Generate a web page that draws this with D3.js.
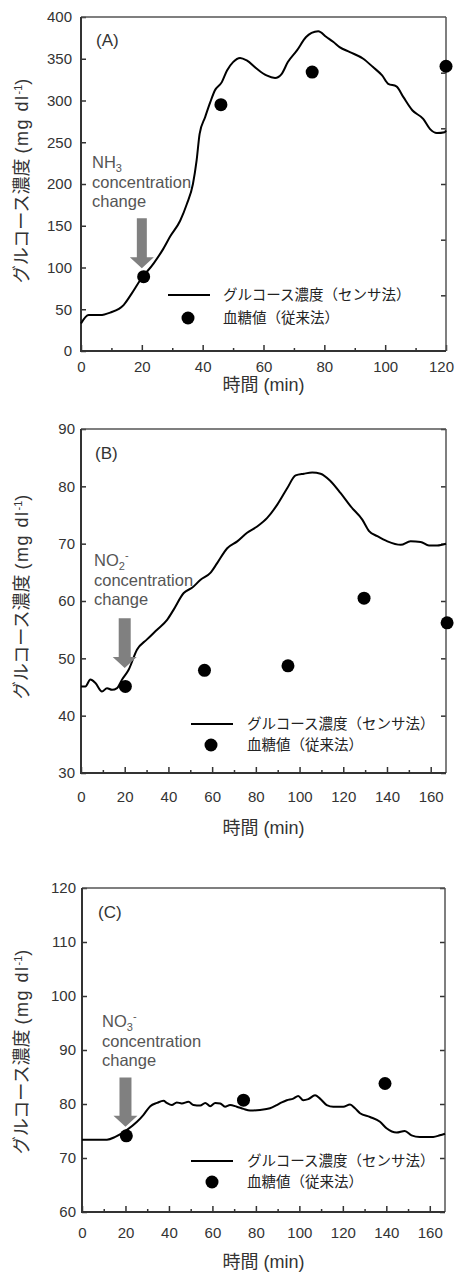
<!DOCTYPE html>
<html>
<head>
<meta charset="utf-8">
<script src="https://cdn.jsdelivr.net/npm/d3@7"></script>
<style>
  html, body { margin: 0; padding: 0; background: #fff; }
  svg { display: block; }
  text { font-family: "Liberation Sans", Arial, "Noto Sans CJK JP", sans-serif; }
  .jp { font-family: "Noto Sans CJK JP", "Liberation Sans", sans-serif; }
</style>
</head>
<body>
<svg id="chart" width="455" height="1273"></svg>
<script>
// ---------- Panel A (NH3) ----------
const timeA = [0, 2.5, 6.3, 9.6, 14, 16.7, 19.5, 23.9, 27, 29.3, 32.6, 34.8, 36.8, 38, 39, 40.8, 42.5, 44, 46.3, 48, 50, 52.3, 54.5, 57.8, 61, 63.8, 66, 68, 71, 74, 75.8, 78, 80.7, 83, 85, 88.4, 92.8, 96, 99, 101, 103.7, 106, 109, 112.5, 114.7, 117, 119.6, 120];
const glucoseA = [33, 43, 43, 46, 55, 69, 85, 105, 122, 137, 156, 176, 200, 228, 260, 280, 298, 312, 322, 336, 346, 351, 348, 338, 330, 327, 332, 346, 360, 376, 381, 383, 376, 370, 364, 358, 350, 340, 330, 320, 317, 304, 288, 278, 266, 261, 262, 264];
const dotTimeA = [20.6, 46, 76, 120];
const dotValueA = [89, 295, 334, 341];
const xTicksA = [0, 20, 40, 60, 80, 100, 120];
const yTicksA = [0, 50, 100, 150, 200, 250, 300, 350, 400];
const rightTicksA = [66.7, 133.3, 200, 266.7, 333.3];

// ---------- Panel B (NO2-) ----------
const timeB = [0, 2, 4.3, 6.6, 9.6, 11.9, 14.2, 16.5, 18.8, 21.8, 25.6, 30.2, 34.8, 39.4, 42.4, 47, 50.8, 54.7, 59.2, 62.3, 66.9, 71.5, 76, 80.6, 85.2, 89.8, 94.4, 98.2, 102, 105.8, 109.6, 114.2, 118.8, 123.4, 128.7, 131.8, 135.6, 140.2, 146.3, 150.8, 155.4, 159.2, 163, 167];
const glucoseB = [45.1, 45.1, 46.3, 45.7, 44.2, 44.8, 44.5, 44.8, 46.3, 48, 51.5, 53.3, 55, 56.7, 58.5, 61.4, 62.3, 63.7, 64.9, 66.6, 69.2, 70.4, 71.9, 73, 74.5, 76.8, 79.7, 81.9, 82.2, 82.4, 82.2, 80.9, 78.8, 76.5, 74.2, 72.2, 71.3, 70.4, 69.8, 70.4, 70.3, 69.7, 69.7, 70];
const dotTimeB = [20.3, 56.5, 94.7, 129.5, 167.5];
const dotValueB = [45.1, 47.9, 48.7, 60.5, 56.2];
const xTicksB = [0, 20, 40, 60, 80, 100, 120, 140, 160];
const yTicksB = [30, 40, 50, 60, 70, 80, 90];

// ---------- Panel C (NO3-) ----------
const timeC = [0, 11.5, 15.3, 20.7, 25.3, 28.3, 31.4, 34.5, 37.5, 39, 41.3, 43.6, 45.9, 49, 51.3, 54.4, 56.7, 59, 61.3, 63.6, 65.8, 68.1, 71.2, 74.3, 77.3, 81.9, 86.5, 89.6, 91.9, 94.2, 97.2, 99.5, 101.8, 104.1, 107.2, 109.5, 112.6, 115.6, 120.2, 123.3, 125.6, 127.9, 132.5, 137.1, 140.1, 144.7, 148.5, 151.6, 155.4, 161.6, 164.6, 167];
const glucoseC = [73.4, 73.4, 73.9, 75.2, 76.7, 78, 79.6, 80.2, 80.6, 80.2, 79.8, 80.3, 80.1, 80.4, 79.8, 79.7, 80.2, 79.6, 80.2, 80.1, 79.5, 79.8, 79.5, 79.1, 78.8, 78.9, 79.2, 79.8, 80.3, 80.7, 81, 81.5, 80.7, 80.9, 81.6, 81, 79.8, 79.5, 79.5, 79.9, 79.2, 78.3, 77.6, 76.7, 75.5, 74.7, 75, 74.2, 73.9, 73.9, 74.2, 74.5];
const dotTimeC = [20.4, 74.3, 139.4];
const dotValueC = [74.1, 80.7, 83.8];
const xTicksC = [0, 20, 40, 60, 80, 100, 120, 140, 160];
const yTicksC = [60, 70, 80, 90, 100, 110, 120];

// ---------- Shared texts ----------
const legendLineLabel = "グルコース濃度（センサ法）";
const legendDotLabel = "血糖値（従来法）";
const xTitle = "時間 (min)";

const svg = d3.select("#chart");
svg.append("rect").attr("width", 455).attr("height", 1273).attr("fill", "#fff");

const panels = [
  { tag: "(A)", time: timeA, val: glucoseA, dt: dotTimeA, dv: dotValueA,
    xDomain: [0, 120], yDomain: [0, 400], xTicks: xTicksA, yTicks: yTicksA, rightTicks: rightTicksA,
    left: 81, right: 446, top: 17, bottom: 351, yPad: 9, xPad: 10.7, titleY: 385, yLabelCY: 181,
    tagPos: [96, 46], chem: ["NH", "3", ""], chemPos: [92, 168], arrow: [99, 159], arrowW: 10,
    leg: { x1: 168, x2: 210, y1: 295, dx: 188, dy: 318, tx: 223 } },
  { tag: "(B)", time: timeB, val: glucoseB, dt: dotTimeB, dv: dotValueB,
    xDomain: [0, 167], yDomain: [30, 90], xTicks: xTicksB, yTicks: yTicksB, rightTicks: yTicksB,
    left: 81, right: 446, top: 429, bottom: 773, yPad: 6, xPad: 18.7, titleY: 828, yLabelCY: 597,
    tagPos: [95, 459], chem: ["NO", "2", "-"], chemPos: [94, 566], arrow: [48.3, 57], arrowW: 12,
    leg: { x1: 191, x2: 233, y1: 724, dx: 211, dy: 745, tx: 247 } },
  { tag: "(C)", time: timeC, val: glucoseC, dt: dotTimeC, dv: dotValueC,
    xDomain: [0, 167], yDomain: [60, 120], xTicks: xTicksC, yTicks: yTicksC, rightTicks: yTicksC,
    left: 82, right: 445, top: 888, bottom: 1212, yPad: 6, xPad: 15.7, titleY: 1262, yLabelCY: 1052,
    tagPos: [98, 918], chem: ["NO", "3", "-"], chemPos: [102, 1027], arrow: [75.8, 84.9], arrowW: 12,
    leg: { x1: 191, x2: 233, y1: 1161, dx: 212, dy: 1182, tx: 247 } }
];

const ink = "#333";

panels.forEach(p => {
  const x = d3.scaleLinear().domain(p.xDomain).range([p.left, p.right]);
  const y = d3.scaleLinear().domain(p.yDomain).range([p.bottom, p.top]);
  const g = svg.append("g");

  // minor x ticks every 10
  const minor = d3.range(p.xDomain[0] + 10, p.xDomain[1], 20);
  g.append("g").attr("transform", `translate(0,${p.bottom})`)
    .call(d3.axisBottom(x).tickValues(minor).tickSize(-3).tickFormat(""))
    .call(a => a.select(".domain").remove())
    .call(a => a.selectAll("line").attr("stroke", ink).attr("stroke-width", 1.5));

  // major x ticks
  g.append("g").attr("transform", `translate(0,${p.bottom})`)
    .call(d3.axisBottom(x).tickValues(p.xTicks).tickSize(-6).tickPadding(p.xPad).tickFormat(d3.format("d")))
    .call(a => a.select(".domain").remove())
    .call(a => a.selectAll("line").attr("stroke", ink).attr("stroke-width", 1.5))
    .call(a => a.selectAll("text").attr("fill", ink).style("font-size", "15px")
      .style("font-family", "'Liberation Sans', Arial, sans-serif")
      .attr("dx", function () {
        // keep a label that would spill past the page edge inside it
        const bb = this.getBBox();
        const tx = +this.parentNode.getAttribute("transform").match(/translate\(([-\d.]+)/)[1];
        const over = tx + bb.x + bb.width - 454;
        return over > 0 ? -over : 0;
      }));

  // left y ticks
  g.append("g").attr("transform", `translate(${p.left},0)`)
    .call(d3.axisLeft(y).tickValues(p.yTicks).tickSize(-5).tickPadding(p.yPad).tickFormat(d3.format("d")))
    .call(a => a.select(".domain").remove())
    .call(a => a.selectAll("line").attr("stroke", ink).attr("stroke-width", 1.5))
    .call(a => a.selectAll("text").attr("fill", ink).style("font-size", "15px")
      .style("font-family", "'Liberation Sans', Arial, sans-serif"));

  // right y ticks
  g.append("g").attr("transform", `translate(${p.right},0)`)
    .call(d3.axisRight(y).tickValues(p.rightTicks).tickSize(-5).tickFormat(""))
    .call(a => a.select(".domain").remove())
    .call(a => a.selectAll("line").attr("stroke", ink).attr("stroke-width", 1.5));

  // frame
  g.append("line").attr("x1", p.left).attr("x2", p.right).attr("y1", p.top).attr("y2", p.top)
    .attr("stroke", "#555").attr("stroke-width", 1.5);
  g.append("line").attr("x1", p.right).attr("x2", p.right).attr("y1", p.top).attr("y2", p.bottom)
    .attr("stroke", "#555").attr("stroke-width", 1.5);
  g.append("line").attr("x1", p.left).attr("x2", p.left).attr("y1", p.top).attr("y2", p.bottom + 1)
    .attr("stroke", ink).attr("stroke-width", 2);
  g.append("line").attr("x1", p.left - 1).attr("x2", p.right).attr("y1", p.bottom).attr("y2", p.bottom)
    .attr("stroke", ink).attr("stroke-width", 2);

  // sensor curve
  const pts = p.time.map((t, i) => [t, p.val[i]]);
  g.append("path").datum(pts)
    .attr("d", d3.line().x(d => x(d[0])).y(d => y(d[1])).curve(d3.curveMonotoneX))
    .attr("fill", "none").attr("stroke", "#000").attr("stroke-width", 2).attr("stroke-linejoin", "round");

  // blood glucose dots
  g.selectAll("circle.dot").data(p.dt.map((t, i) => [t, p.dv[i]])).enter()
    .append("circle").attr("class", "dot")
    .attr("cx", d => x(d[0])).attr("cy", d => y(d[1])).attr("r", 6.5).attr("fill", "#000");

  // panel tag
  g.append("text").attr("x", p.tagPos[0]).attr("y", p.tagPos[1]).text(p.tag)
    .attr("fill", ink).style("font-size", "17px");

  // annotation text
  const ann = g.append("text").attr("x", p.chemPos[0]).attr("y", p.chemPos[1])
    .attr("fill", "#555").style("font-size", "16.5px");
  ann.append("tspan").text(p.chem[0]);
  ann.append("tspan").text(p.chem[1]).attr("dy", 4).style("font-size", "11px");
  if (p.chem[2]) ann.append("tspan").text(p.chem[2]).attr("dy", -11).style("font-size", "11px");
  g.append("text").attr("x", p.chemPos[0]).attr("y", p.chemPos[1] + 19.5).text("concentration")
    .attr("fill", "#555").style("font-size", "16.5px");
  g.append("text").attr("x", p.chemPos[0]).attr("y", p.chemPos[1] + 39).text("change")
    .attr("fill", "#555").style("font-size", "16.5px");

  // arrow
  const ax = x(20), tipY = y(p.arrow[0]), topY = y(p.arrow[1]);
  const hw = p.arrowW / 2, headH = 11, headW = 12;
  g.append("path")
    .attr("d", `M${ax - hw},${topY} L${ax + hw},${topY} L${ax + hw},${tipY - headH} L${ax + headW},${tipY - headH} L${ax},${tipY} L${ax - headW},${tipY - headH} L${ax - hw},${tipY - headH} Z`)
    .attr("fill", "#808080");

  // legend
  const L = p.leg;
  g.append("line").attr("x1", L.x1).attr("x2", L.x2).attr("y1", L.y1).attr("y2", L.y1)
    .attr("stroke", "#000").attr("stroke-width", 2);
  g.append("text").attr("class", "jp").attr("x", L.tx).attr("y", L.y1).attr("dy", "0.36em")
    .text(legendLineLabel).attr("fill", "#222").style("font-size", "14.5px");
  g.append("circle").attr("cx", L.dx).attr("cy", L.dy).attr("r", 6.5).attr("fill", "#000");
  g.append("text").attr("class", "jp").attr("x", L.tx).attr("y", L.dy).attr("dy", "0.36em")
    .text(legendDotLabel).attr("fill", "#222").style("font-size", "14.5px");

  // x title
  g.append("text").attr("x", (p.left + p.right) / 2).attr("y", p.titleY).attr("dy", "0.36em")
    .attr("text-anchor", "middle").text(xTitle).attr("fill", ink).style("font-size", "18px")
    .style("font-family", "'Liberation Sans', 'Noto Sans CJK JP', sans-serif");

  // y title
  const yt = g.append("text").attr("transform", `translate(22,${p.yLabelCY}) rotate(-90)`)
    .attr("text-anchor", "middle").attr("dy", "0.36em").attr("fill", ink).style("font-size", "18px")
    .style("font-family", "'Liberation Sans', 'Noto Sans CJK JP', sans-serif");
  yt.append("tspan").text("グルコース濃度 ");
  yt.append("tspan").text("(mg dl").style("letter-spacing", "1.5px");
  yt.append("tspan").text("-1").attr("dy", -6).style("font-size", "11px");
  yt.append("tspan").text(")").attr("dy", 6);
});
</script>
</body>
</html>
